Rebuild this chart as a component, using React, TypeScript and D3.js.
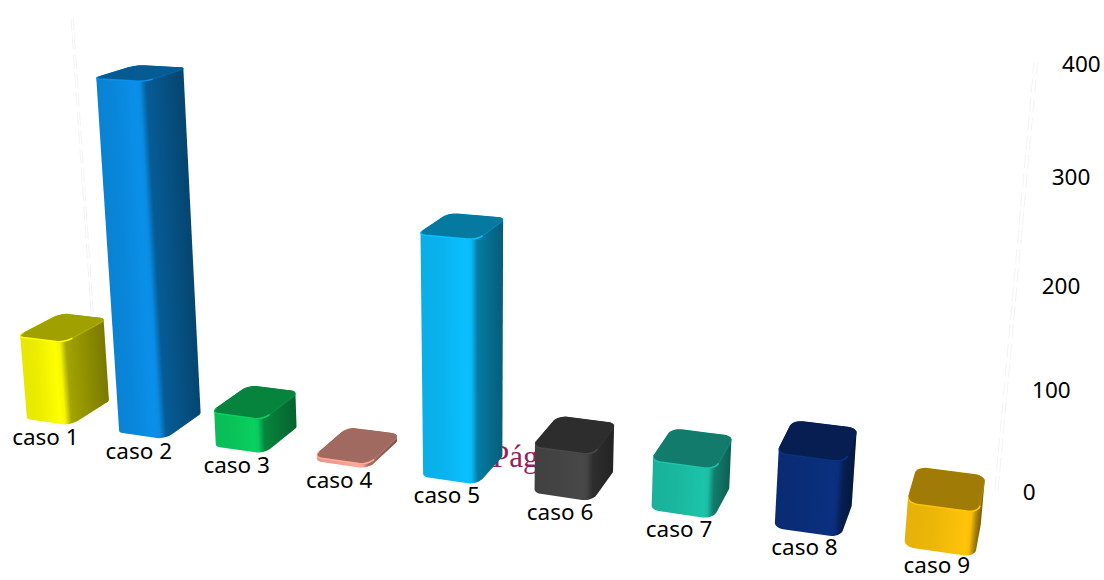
import React from "react";
import * as d3 from "d3";

const categories = ["caso 1", "caso 2", "caso 3", "caso 4", "caso 5", "caso 6", "caso 7", "caso 8", "caso 9"];
const values = [91, 367, 36, 4, 240, 46, 48, 71, 41];
const barColors = ["#ffff00", "#0a90ea", "#0ad060", "#ffa898", "#0ac0ff", "#484848", "#1cc4aa", "#0a3080", "#ffc40a"];
const axisTicks = [0, 100, 200, 300, 400];

// Homogeneous camera: world (X along the row, Y into depth, Z up) to screen.
const camera = [
  [89.74, 44.0, -30.44, 26],
  [3.73, -9.24, -381.2, 418],
  [-0.02247, 0.0393, -0.0629, 1],
];

type Pt = [number, number];

function project(X: number, Y: number, Z: number): Pt {
  const [a, b, c] = camera.map((r) => r[0] * X + r[1] * Y + r[2] * Z + r[3]);
  return [a / c, b / c];
}

const rowScale = d3.scalePoint<string>().domain(categories).range([0, 8]);
const heightScale = d3.scaleLinear().domain([0, 400]).range([0, 1]);
const BAR_LEFT = -0.028;
const BAR_RIGHT = 0.5;
const BAR_FRONT = -0.03;
const BAR_BACK = 1.04;
const WALL_DEPTH = 1.9;
const wallEdges = [-0.08, 8.56];

const toPath = d3.line<Pt>().x((d) => d[0]).y((d) => d[1]);

// World outline of a rounded footprint, walked corner by corner.
function footprint(x0: number, x1: number, y0: number, y1: number, rx: number, ry: number): Pt[] {
  const corners: [number, number, number][] = [
    [x0 + rx, y0 + ry, Math.PI],
    [x1 - rx, y0 + ry, Math.PI * 1.5],
    [x1 - rx, y1 - ry, 0],
    [x0 + rx, y1 - ry, Math.PI * 0.5],
  ];
  const pts: Pt[] = [];
  corners.forEach(([cx, cy, start]) => {
    d3.range(9).forEach((k) => {
      const t = start + (k / 8) * (Math.PI / 2);
      pts.push([cx + rx * Math.cos(t), cy + ry * Math.sin(t)]);
    });
  });
  return pts;
}

function Bar({ i }: { i: number }) {
  const name = categories[i];
  const pos = rowScale(name) as number;
  const x0 = pos + BAR_LEFT;
  const x1 = pos + BAR_RIGHT;
  const H = heightScale(values[i]);
  const base = d3.rgb(barColors[i]);
  const rx = 0.085;
  const ry = 0.19;
  const outline = footprint(x0, x1, BAR_FRONT, BAR_BACK, rx, ry);
  const topRing = outline.map((p) => project(p[0], p[1], H));
  const groundRing = outline.map((p) => project(p[0], p[1], 0));
  const hull = d3.polygonHull([...topRing, ...groundRing]) as Pt[];

  // Shading runs across the body, square to the vertical edges.
  const low = project(x1, BAR_FRONT, 0);
  const high = project(x1, BAR_FRONT, H);
  const len = Math.max(Math.hypot(high[0] - low[0], high[1] - low[1]), 1);
  const edge: Pt = H > 0.02 ? [(high[0] - low[0]) / len, (high[1] - low[1]) / len] : [0, -1];
  const across: Pt = [-edge[1], edge[0]];
  const along = (p: Pt) => p[0] * across[0] + p[1] * across[1];
  const mid = (x: number, y: number) => {
    const a = project(x, y, 0);
    const b = project(x, y, H);
    return [(a[0] + b[0]) / 2, (a[1] + b[1]) / 2] as Pt;
  };
  const sL = along(mid(x0, BAR_FRONT));
  const sC = along(mid(x1 - rx * 0.5, BAR_FRONT));
  const sR = along(mid(x1, BAR_BACK));
  const fc = (sC - sL) / (sR - sL);
  const midL = mid(x0, BAR_FRONT);
  const g2: Pt = [midL[0] + across[0] * (sR - sL), midL[1] + across[1] * (sR - sL)];
  const stops: [number, string][] = [
    [0, base.darker(0.3).formatHex()],
    [fc * 0.45, base.darker(0.2).formatHex()],
    [fc - 0.06, base.formatHex()],
    [fc - 0.01, base.darker(0.1).formatHex()],
    [fc + 0.06, base.darker(1.25).formatHex()],
    [1, base.darker(2.2).formatHex()],
  ];

  const frontEdge = outline.filter((p) => p[1] <= BAR_FRONT + ry + 1e-6).map((p) => project(p[0], p[1], H));
  const sideEdge = outline
    .filter((p) => p[0] >= x1 - rx - 1e-6)
    .map((p) => project(p[0], p[1], H));

  return (
    <g>
      <defs>
        <linearGradient id={`body-${i}`} gradientUnits="userSpaceOnUse" x1={midL[0]} y1={midL[1]} x2={g2[0]} y2={g2[1]}>
          {stops.map(([o, c], k) => (
            <stop key={k} offset={o} stopColor={c} />
          ))}
        </linearGradient>
        <clipPath id={`hull-${i}`}>
          <path d={`${toPath(hull)}Z`} />
        </clipPath>
      </defs>
      <path d={`${toPath(hull)}Z`} fill={`url(#body-${i})`} />
      <g clipPath={`url(#hull-${i})`}>
        <path d={`${toPath(topRing)}Z`} fill={base.darker(1.3).formatHex()} />
        <path d={toPath(sideEdge) ?? ""} fill="none" stroke={base.darker(0.9).formatHex()} strokeWidth={1.3} opacity={0.7} />
        <path d={toPath(frontEdge) ?? ""} fill="none" stroke={base.formatHex()} strokeWidth={1.6} />
      </g>
    </g>
  );
}

export default function App() {
  const labelFont = "'Noto Sans', 'Open Sans', sans-serif";
  return (
    <svg
      width={1104}
      height={580}
      viewBox="0 0 1104 580"
      style={{ position: "absolute", left: 0, top: 0, background: "#fff" }}
    >
      {/* Faint wall edges behind the row of bars */}
      {wallEdges.map((X, w) =>
        [0, 0.025].map((off, k) => {
          const a = project(X + off, WALL_DEPTH, 0);
          const b = project(X + off, WALL_DEPTH, heightScale(400));
          return (
            <line
              key={`${w}-${k}`}
              x1={a[0]}
              y1={a[1]}
              x2={b[0]}
              y2={b[1]}
              stroke="#f3f3f3"
              strokeWidth={1}
              strokeDasharray="14 5"
            />
          );
        })
      )}

      <text x={492} y={467} fontFamily="'Liberation Serif', serif" fontSize={31} fill="#9a1c5c">
        Pág
      </text>

      {categories.map((c, i) => (
        <Bar key={c} i={i} />
      ))}

      {categories.map((c) => {
        const pos = rowScale(c) as number;
        const p = project(pos + (BAR_LEFT + BAR_RIGHT) / 2, 0, 0);
        return (
          <text
            key={c}
            x={p[0] - 2}
            y={Math.min(p[1] + 24, 573)}
            textAnchor="middle"
            fontFamily={labelFont}
            fontSize={22.5}
            fill="#000"
          >
            {c}
          </text>
        );
      })}

      {axisTicks.map((t) => {
        const p = project(wallEdges[1], WALL_DEPTH, heightScale(t));
        return (
          <text
            key={t}
            x={p[0] + 28}
            y={p[1] + 1}
            dominantBaseline="central"
            fontFamily={labelFont}
            fontSize={22.5}
            fill="#000"
          >
            {t}
          </text>
        );
      })}
    </svg>
  );
}
